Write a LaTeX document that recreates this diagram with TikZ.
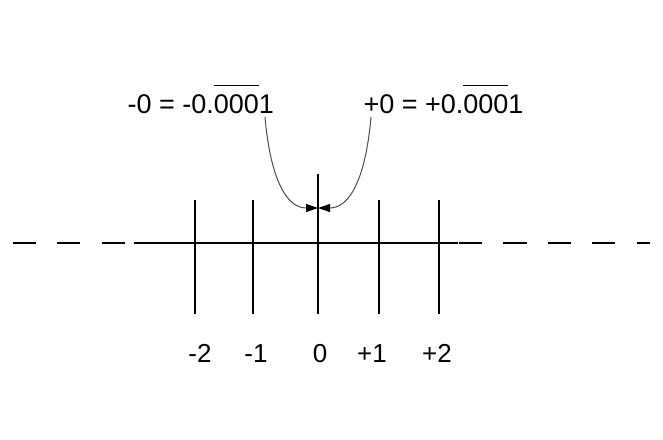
\documentclass[tikz,border=0pt]{standalone}
\usepackage{fontspec}
\setmainfont{Liberation Sans}
\usetikzlibrary{arrows.meta}
\newcommand\repbar[1]{{\setbox0\hbox{#1}\rlap{\rule[1.0em]{\wd0}{0.5pt}}\box0}}

\begin{document}
\begin{tikzpicture}[x=0.5pt,y=-0.5pt,line width=0.6pt,
    lbl/.style={font=\fontsize{13.5pt}{16pt}\selectfont,inner sep=0pt,anchor=base west},
    num/.style={font=\fontsize{13pt}{16pt}\selectfont,inner sep=0pt,anchor=base},
    zeroarrow/.style={draw=black!70,line width=0.5pt,-{Triangle[length=6pt,width=4pt,color=black]}}]
    \useasboundingbox (0,0) rectangle (663,439);
    % number line
    \draw (134,243) -- (458,243);
    \foreach \a/\b in {13/36,57/80,102/125,459/482,503/527,548/571,592/615,637/650}
        \draw (\a,243) -- (\b,243);
    \foreach \x in {195,253,379,439}
        \draw (\x,200) -- (\x,314);
    \draw (318,174) -- (318,314);
    \foreach \x/\t [count=\i] in {200/-2,256/-1,320/0,372/+1,437/+2}
        \node[num] (n\i) at (\x,362) {\t};
    % the two zeros
    \node[lbl] (negzero) at (127,113) {-0 = -0.\repbar{000}1};
    \node[lbl] (poszero) at (363,113) {+0 = +0.\repbar{000}1};
    \coordinate (nz) at (265,117);
    \coordinate (pz) at (371,117);
    \coordinate (tip) at (318,208);
    \draw[zeroarrow] (nz) .. controls (270,175) and (285,208) .. (tip);
    \draw[zeroarrow] (pz) .. controls (366,175) and (351,208) .. (tip);
\end{tikzpicture}
\end{document}
